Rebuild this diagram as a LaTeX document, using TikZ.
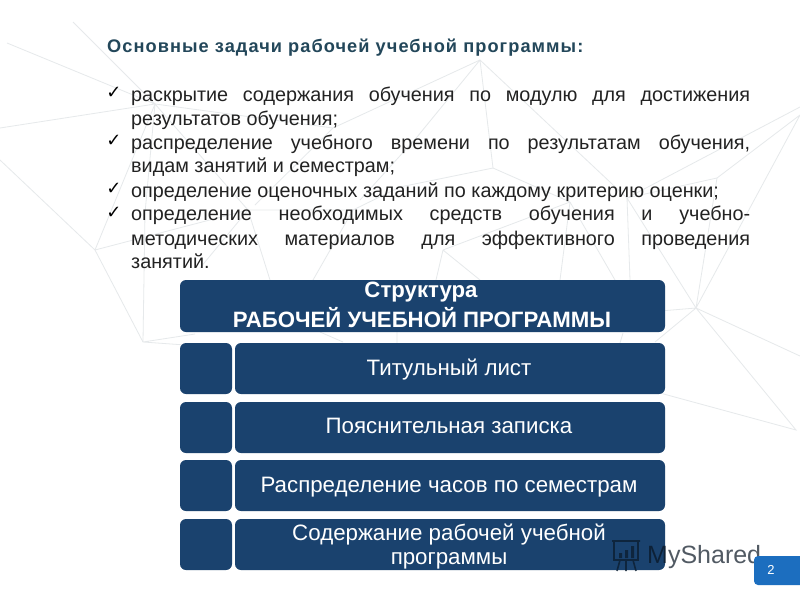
\documentclass[tikz,border=0pt]{standalone}
\usepackage{fontspec}
\setmainfont{Liberation Sans}
\newfontfamily\dejavu{DejaVu Sans}
\definecolor{boxblue}{HTML}{1A426E}
\definecolor{titleteal}{HTML}{23475A}
\definecolor{bodytext}{HTML}{222222}
\definecolor{netgrey}{HTML}{E6E9EB}
\definecolor{pageblue}{HTML}{1C6EBF}
\tikzset{
  net/.style={draw=netgrey,line width=0.8pt},
  boxa/.style={fill=boxblue,rounded corners=6pt,draw=none},
  lbl/.style={text=white,font=\fontsize{22.3}{24}\selectfont,inner sep=0pt,anchor=base},
  hdr/.style={text=white,font=\bfseries\fontsize{22.2}{24}\selectfont,inner sep=0pt,anchor=base},
  bodyline/.style={text=bodytext,font=\fontsize{19.8}{22}\selectfont,inner sep=0pt,anchor=base west},
  tick/.style={text=black,font=\dejavu\fontsize{18}{18}\selectfont,inner sep=0pt,anchor=center},
}
\newcommand{\just}[1]{\makebox[619pt][s]{#1}}
\begin{document}
\begin{tikzpicture}[x=1pt,y=-1pt]
\useasboundingbox (0,0) rectangle (800,600);
\fill[white] (0,0) rectangle (800,600);
% background net
\coordinate (A) at (155,104);
\coordinate (B) at (248,210);
\coordinate (C) at (480,60);
\coordinate (D) at (493,168);
\coordinate (E) at (570,202);
\coordinate (G) at (95,250);
\coordinate (H) at (143,342);
\coordinate (J) at (627,198);
\coordinate (K) at (717,178);
\coordinate (F) at (696,308);
\coordinate (L) at (796,430);
\coordinate (M) at (443,250);
\coordinate (N) at (353,210);
\draw[net] (7,43) -- (A) (73,22) -- (A) (0,128) -- (A);
\draw[net] (A) -- (G) (A) -- (B) (A) -- (145,213) -- (H);
\draw[net] (0,160) -- (G) -- (H) (G) -- (B) -- (N);
\draw[net] (B) -- (270,280) (B) -- (200,268) (N) -- (313,280) (N) -- (400,187) -- (D);
\draw[net] (A) -- (333,128) -- (C) (333,128) -- (255,205);
\draw[net] (C) -- (417,137) -- (360,200) (C) -- (D) -- (E) (C) -- (J);
\draw[net] (E) -- (M) -- (436,280) (M) -- (480,280) (E) -- (560,280) (E) -- (615,280);
\draw[net] (J) -- (630,280) (J) -- (K) (J) -- (800,107) (J) -- (F);
\draw[net] (K) -- (800,115) -- (F) (K) -- (F);
\draw[net] (F) -- (800,356) (F) -- (L) -- (660,393) (F) -- (660,311) (F) -- (655,342);
\draw[net] (H) -- (195,334) (H) -- (185,345);
\draw[net] (320,332) -- (343,342) (397,332) -- (397,343) (623,333) -- (620,343);
% title and list
\node[inner sep=0pt,anchor=base west,text=titleteal,font=\bfseries\fontsize{18.2}{20}\selectfont] (title) at (107,52) {\addfontfeatures{LetterSpace=5.8}Основные задачи рабочей учебной программы:};
\node[tick] (t1) at (114,93) {✓};
\node[tick] (t2) at (114,141) {✓};
\node[tick] (t3) at (114,189) {✓};
\node[tick] (t4) at (114,213) {✓};
\node[bodyline] (l1) at (131,101) {\just{раскрытие содержания обучения по модулю для достижения}};
\node[bodyline] (l2) at (131,125) {результатов обучения;};
\node[bodyline] (l3) at (131,149) {\just{распределение учебного времени по результатам обучения,}};
\node[bodyline] (l4) at (131,172) {видам занятий и семестрам;};
\node[bodyline] (l5) at (131,197) {определение оценочных заданий по каждому критерию оценки;};
\node[bodyline] (l6) at (131,220) {\just{определение необходимых средств обучения и учебно-}};
\node[bodyline] (l7) at (131,245) {\just{методических материалов для эффективного проведения}};
\node[bodyline] (l8) at (131,268) {занятий.};
% boxes
\fill[boxa] (180,280) rectangle (665,332);
\foreach \t/\b in {343/394,402/453,460/511,519/570}{
  \fill[boxa] (180,\t) rectangle (232,\b);
  \fill[boxa] (235,\t) rectangle (665,\b);
}
\node[hdr] (h1) at (421,297) {Структура};
\node[hdr] (h2) at (422,327) {РАБОЧЕЙ УЧЕБНОЙ ПРОГРАММЫ};
\node[lbl] (r1) at (449,375) {Титульный лист};
\node[lbl] (r2) at (449,433) {Пояснительная записка};
\node[lbl] (r3) at (449,492) {Распределение часов по семестрам};
\node[lbl] (r4a) at (449,540) {Содержание рабочей учебной};
\node[lbl] (r4b) at (449,564) {программы};
% watermark
\node[inner sep=0pt,anchor=base west,text=black!70!boxblue,opacity=.7,font=\fontsize{25}{27}\selectfont] (wm) at (647,563) {MyShared};
\draw[line width=1.6pt,draw=black!55!boxblue,opacity=.8] (612,541) -- (640,541) (614,541) -- (614,560) -- (638,560) -- (638,541) (620,560) -- (617,571) (633,560) -- (636,571) (626,560) -- (626,571);
\fill[black!55!boxblue,opacity=.8] (619,553) rectangle (622,558) (625,550) rectangle (628,558) (631,546) rectangle (634,558);
% page number
\fill[pageblue] (800,556) [rounded corners=4pt] -- (754,556) -- (754,585) [sharp corners] -- (800,585) -- cycle;
\node[inner sep=0pt,text=white,font=\fontsize{13}{15}\selectfont] (pg) at (771,570) {2};
\end{tikzpicture}
\end{document}
